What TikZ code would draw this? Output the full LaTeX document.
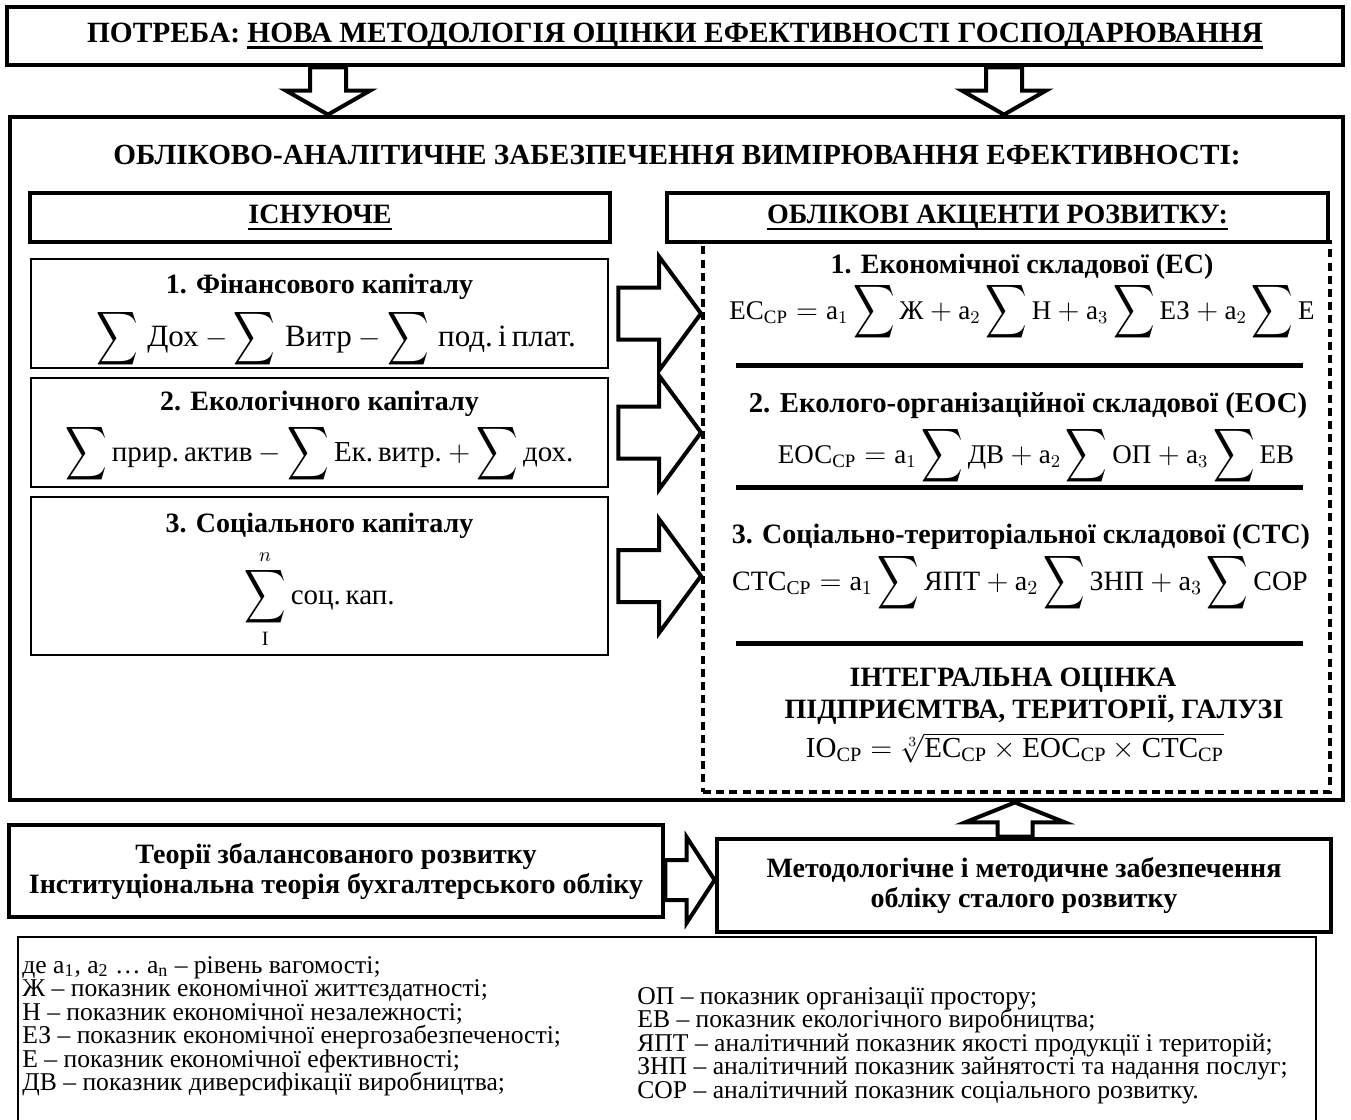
\documentclass[tikz,border=0pt]{standalone}
\usepackage{fontspec}
\setmainfont{Liberation Serif}
\usepackage{amsmath}
\usepackage{graphicx}
\usetikzlibrary{calc}

\newsavebox{\underbox}
\newcommand{\thickunder}[1]{\sbox{\underbox}{#1}\rlap{\rule[-3pt]{\wd\underbox}{1.1pt}}\usebox{\underbox}}
\newcommand{\tallsum}{\mathop{\vcenter{\hbox{\scalebox{1}[1.3]{$\displaystyle\sum$}}}}}

\tikzset{
  heavybox/.style={draw, line width=2.4pt, inner sep=0pt, align=center,
    font=\bfseries\fontsize{14}{15}\selectfont},
  listbox/.style={draw, line width=1.3pt, inner sep=0pt, minimum width=288.5pt},
  captext/.style={inner sep=0pt, font=\bfseries\fontsize{14}{15}\selectfont},
  formtext/.style={inner sep=0pt, font=\fontsize{14.5}{15}\selectfont},
  accentzone/.style={draw, line width=2pt, dash pattern=on 4pt off 2.6pt, inner sep=0pt},
  headtext/.style={inner sep=0pt, font=\bfseries\fontsize{14.6}{16}\selectfont},
  blockarrow/.style={draw, line width=2pt, fill=white, line join=miter},
  splitrule/.style={line width=2.5pt},
  legendbox/.style={draw, line width=1.2pt, inner sep=0pt},
  legendtext/.style={inner sep=0pt, anchor=base west, font=\fontsize{12.8}{14}\selectfont}
}

% hollow block arrows, drawn between anchors
\newcommand{\blockright}[5]{%
  \draw[blockarrow] let \p1=(#1), \p2=(#2) in
    (\x1,\y1+#3) -- (\x2-#5,\y1+#3) -- (\x2-#5,\y1+#4) -- (\x2,\y1)
    -- (\x2-#5,\y1-#4) -- (\x2-#5,\y1-#3) -- (\x1,\y1-#3) -- cycle;}
\newcommand{\blockdown}[5]{%
  \draw[blockarrow] let \p1=(#1), \p2=(#2) in
    (\x1-#3,\y1) -- (\x1-#3,\y2+#5) -- (\x1-#4,\y2+#5) -- (\x1,\y2)
    -- (\x1+#4,\y2+#5) -- (\x1+#3,\y2+#5) -- (\x1+#3,\y1) -- cycle;}
\newcommand{\blockup}[5]{%
  \draw[blockarrow] let \p1=(#1), \p2=(#2) in
    (\x1-#3,\y1) -- (\x1-#3,\y2-#5) -- (\x1-#4,\y2-#5) -- (\x1,\y2)
    -- (\x1+#4,\y2-#5) -- (\x1+#3,\y2-#5) -- (\x1+#3,\y1) -- cycle;}

\begin{document}
\begin{tikzpicture}[x=0.5pt, y=-0.5pt]
\useasboundingbox (0,0) rectangle (1351,1120);

% need and main frame
\node[heavybox, minimum width=668pt, minimum height=29pt,
  font=\bfseries\fontsize{14.7}{18}\selectfont] (need) at (675,36)
  {ПОТРЕБА: \thickunder{НОВА МЕТОДОЛОГІЯ ОЦІНКИ ЕФЕКТИВНОСТІ ГОСПОДАРЮВАННЯ}};
\node[heavybox, minimum width=666.5pt, minimum height=341.5pt] (frame) at (676.5,458.5) {};
\node[headtext] (frametitle) at (677,155)
  {ОБЛІКОВО-АНАЛІТИЧНЕ ЗАБЕЗПЕЧЕННЯ ВИМІРЮВАННЯ ЕФЕКТИВНОСТІ:};

\coordinate (downL) at (328,0);
\coordinate (downR) at (1004,0);
\blockdown{need.south -| downL}{frame.north -| downL}{9pt}{21pt}{12pt}
\blockdown{need.south -| downR}{frame.north -| downR}{9pt}{21pt}{12pt}

% existing capital
\node[heavybox, minimum width=290pt, minimum height=24.5pt] (exist) at (320,217.5) {\thickunder{ІСНУЮЧЕ}};
\node[listbox, minimum height=54.5pt] (fin) at (319.5,313.5) {};
\node[captext] (fintitle) at (319.5,287) {1. Фінансового капіталу};
\node[formtext, font=\fontsize{15.5}{15}\selectfont] (finform) at (336,339)
  {$\tallsum\,\text{Дох}-\tallsum\,\text{Витр}-\tallsum\,\text{под.\,і\,плат.}$};
\node[listbox, minimum height=54.5pt] (eco) at (319.5,432.5) {};
\node[captext] (ecotitle) at (319.5,404) {2. Екологічного капіталу};
\node[formtext] (ecoform) at (319.5,454)
  {$\tallsum\text{прир.\,актив}-\tallsum\text{Ек.\,витр.}+\tallsum\text{дох.}$};
\node[listbox, minimum height=79pt] (soc) at (319.5,576) {};
\node[captext] (soctitle) at (319.5,526) {3. Соціального капіталу};
\node[formtext] (socform) at (319.5,599)
  {$\displaystyle\tallsum\limits_{\text{І}}^{n}\text{соц.\,кап.}$};

% accents of development
\node[heavybox, minimum width=330.5pt, minimum height=24.5pt] (accent) at (997.5,217.5)
  {\thickunder{ОБЛІКОВІ АКЦЕНТИ РОЗВИТКУ:}};
\node[accentzone, minimum width=313.5pt, minimum height=275pt] (zone) at (1016.5,517) {};

\node[captext] (ectitle) at (1022,267) {1. Економічної складової (ЕС)};
\node[formtext, font=\fontsize{13.5}{15}\selectfont] (ecform) at (1022,312)
  {$\text{ЕС}_{\text{СР}}=\text{a}_1\tallsum\text{Ж}+\text{a}_2\tallsum\text{Н}
     +\text{a}_3\tallsum\text{ЕЗ}+\text{a}_2\tallsum\text{Е}$};
\draw[splitrule] (736,365) -- (1303,365);
\node[captext, font=\bfseries\fontsize{14.4}{15}\selectfont] (eoctitle) at (1028,406)
  {2. Еколого-організаційної складової (ЕОС)};
\node[formtext, font=\fontsize{13.5}{15}\selectfont] (eocform) at (1036,456)
  {$\text{ЕОС}_{\text{СР}}=\text{a}_1\tallsum\text{ДВ}+\text{a}_2\tallsum\text{ОП}
     +\text{a}_3\tallsum\text{ЕВ}$};
\draw[splitrule] (736,487) -- (1303,487);
\node[captext] (stctitle) at (1021,537) {3. Соціально-територіальної складової (СТС)};
\node[formtext, font=\fontsize{14}{15}\selectfont] (stcform) at (1020,583)
  {$\text{СТС}_{\text{СР}}=\text{a}_1\tallsum\text{ЯПТ}+\text{a}_2\tallsum\text{ЗНП}
     +\text{a}_3\tallsum\text{СОР}$};
\draw[splitrule] (736,643) -- (1303,643);
\node[captext] (iotitle) at (1013,680) {ІНТЕГРАЛЬНА ОЦІНКА};
\node[captext] (iosub) at (1034,710) {ПІДПРИЄМТВА, ТЕРИТОРІЇ, ГАЛУЗІ};
\node[formtext] (ioform) at (1015,748)
  {$\text{ІО}_{\text{СР}}=\sqrt[3]{\text{ЕС}_{\text{СР}}\times\text{ЕОС}_{\text{СР}}\times\text{СТС}_{\text{СР}}}$};

\blockright{$(fin.east)+(9,0)$}{zone.west}{13pt}{28.5pt}{21pt}
\blockright{$(eco.east)+(9,0)$}{zone.west}{13pt}{28.5pt}{21pt}
\blockright{$(soc.east)+(9,0)$}{zone.west}{13pt}{28.5pt}{21pt}

% theory and methodology
\node[heavybox, minimum width=327pt, minimum height=46pt] (theory) at (336,871)
  {Теорії збалансованого розвитку\\Інституціональна теорія бухгалтерського обліку};
\node[heavybox, minimum width=307pt, minimum height=46.5pt] (method) at (1024,885.5)
  {Методологічне і методичне забезпечення\\обліку сталого розвитку};
\coordinate (linkY) at (0,880);
\coordinate (upX) at (1015,0);
\blockright{theory.east |- linkY}{method.west |- linkY}{10pt}{21.5pt}{14pt}
\blockup{method.north -| upX}{frame.south -| upX}{8.75pt}{25pt}{10pt}

% legend
\node[legendbox, minimum width=649pt, minimum height=120pt, anchor=north west] (legend) at (17,936) {};
\foreach \entry [count=\i] in {{де a\textsubscript{1}, a\textsubscript{2} … a\textsubscript{n} – рівень вагомості;},
    Ж – показник економічної життєздатності;,
    Н – показник економічної незалежності;,
    ЕЗ – показник економічної енергозабезпеченості;,
    Е – показник економічної ефективності;,
    ДВ – показник диверсифікації виробництва;}
  \node[legendtext] (keyL\i) at (22,973+23.5*\i-23.5) {\entry};
\foreach \entry [count=\i] in {ОП – показник організації простору;,
    ЕВ – показник екологічного виробництва;,
    ЯПТ – аналітичний показник якості продукції і територій;,
    ЗНП – аналітичний показник зайнятості та надання послуг;,
    СОР – аналітичний показник соціального розвитку.}
  \node[legendtext] (keyR\i) at (637,1004+23.5*\i-23.5) {\entry};
\end{tikzpicture}
\end{document}
